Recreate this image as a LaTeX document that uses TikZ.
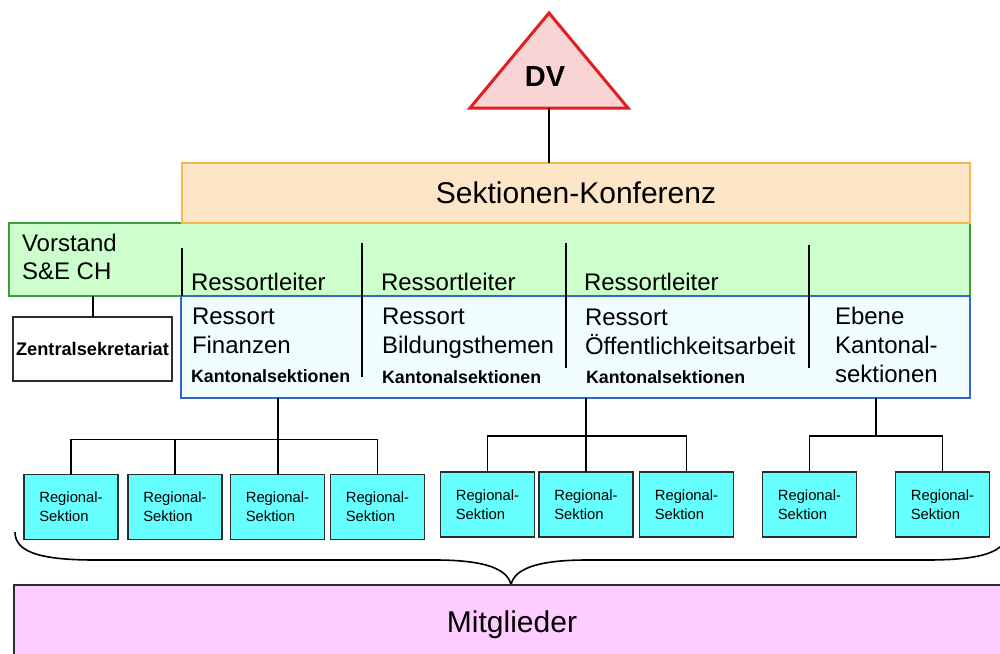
\documentclass[tikz,border=0pt]{standalone}
\usepackage{fontspec}
\setmainfont{Liberation Sans}
\usetikzlibrary{calc}
\definecolor{dvred}{RGB}{224,32,30}
\definecolor{dvfill}{RGB}{249,212,212}
\definecolor{skfill}{RGB}{253,230,200}
\definecolor{skline}{RGB}{246,184,74}
\definecolor{vsfill}{RGB}{204,255,204}
\definecolor{vsline}{RGB}{58,158,58}
\definecolor{kbfill}{RGB}{240,253,255}
\definecolor{kbline}{RGB}{51,102,204}
\definecolor{rsfill}{RGB}{102,255,255}
\definecolor{mgfill}{RGB}{255,204,255}
\definecolor{boxline}{RGB}{45,45,45}
\tikzset{
	plain/.style={inner sep=0pt, outer sep=0pt},
	bigtext/.style={font=\fontsize{15}{17}\selectfont},
	midtext/.style={plain, anchor=base west, font=\fontsize{12}{14}\selectfont},
	boldtext/.style={plain, anchor=base west, font=\fontsize{8.9}{10}\selectfont\bfseries},
	regbox/.style={plain, draw=boxline, line width=0.8pt, fill=rsfill, minimum width=47pt, minimum height=32.5pt, align=left, font=\fontsize{7.4}{9.5}\selectfont},
	conn/.style={line width=0.8pt},
}
\begin{document}
\begin{tikzpicture}[x=0.5pt, y=-0.5pt]
			%%%%% START %%%%%
			\useasboundingbox (0, 0) rectangle (1000, 653);
			\clip (0, 0) rectangle (1000, 653);
			
			% DV
			\draw[draw=dvred, fill=dvfill, line width=1.5pt, line join=miter] (549, 13) -- (628, 108) -- (470, 108) -- cycle;
			\node[font=\fontsize{14.5}{17}\selectfont\bfseries] (dv) at (545, 77) {DV};
			\coordinate (dvb) at (549, 108);
			
			% Vorstand / Konferenz
			\node[plain, draw=vsline, fill=vsfill, line width=0.8pt, minimum width=480.5pt, minimum height=36.5pt] (vs) at (489.5, 259.5) {};
			\node[plain, draw=skline, fill=skfill, line width=0.8pt, minimum width=394pt, minimum height=30pt, bigtext] (sk) at (576, 193) {Sektionen-Konferenz};
			\node[plain, draw=kbline, fill=kbfill, line width=0.8pt, minimum width=394.5pt, minimum height=51pt] (kb) at (575.5, 347) {};
			
			\draw[conn, line width=1pt] (dvb) -- (dvb |- sk.north);
			
			\node[midtext] (vst1) at (22, 251) {Vorstand};
			\node[midtext] (vst2) at (22, 279) {S\&E CH};
			
			\draw[conn] (182, 248) -- (182, 296);
			\draw[conn] (362, 243) -- (362, 377);
			\draw[conn] (566, 243) -- (566, 368);
			\draw[conn] (809, 245) -- (809, 368);
			
			\node[midtext] (rl1) at (191, 290) {Ressortleiter};
			\node[midtext] (rl2) at (381, 290) {Ressortleiter};
			\node[midtext] (rl3) at (584, 290) {Ressortleiter};
			
			\node[midtext] (ra1) at (192, 324) {Ressort};
			\node[midtext] (rb1) at (192, 353) {Finanzen};
			\node[boldtext] (rc1) at (191, 382) {Kantonalsektionen};
			
			\node[midtext] (ra2) at (382, 324) {Ressort};
			\node[midtext] (rb2) at (382, 353) {Bildungsthemen};
			\node[boldtext] (rc2) at (382, 383) {Kantonalsektionen};
			
			\node[midtext] (ra3) at (585, 325) {Ressort};
			\node[midtext] (rb3) at (585, 354) {Öffentlichkeitsarbeit};
			\node[boldtext] (rc3) at (586, 383) {Kantonalsektionen};
			
			\node[midtext] (eb1) at (835, 324) {Ebene};
			\node[midtext] (eb2) at (835, 353) {Kantonal-};
			\node[midtext] (eb3) at (835, 382) {sektionen};
			
			% Zentralsekretariat
			\node[plain, draw=boxline, fill=white, line width=0.8pt, minimum width=79.5pt, minimum height=32pt, font=\fontsize{9.1}{10}\selectfont\bfseries] (zs) at (92.5, 349) {Zentralsekretariat};
			\draw[conn, line width=1pt] (vs.south -| zs.north) -- (zs.north);
			
			% Regionalsektionen
			\node[regbox] (r1) at (71, 507) {Regional-\\Sektion};
			\node[regbox] (r2) at (175, 507) {Regional-\\Sektion};
			\node[regbox] (r3) at (277.5, 507) {Regional-\\Sektion};
			\node[regbox] (r4) at (377.5, 507) {Regional-\\Sektion};
			
			\node[regbox] (r5) at (487.5, 504.5) {Regional-\\Sektion};
			\node[regbox] (r6) at (586, 504.5) {Regional-\\Sektion};
			\node[regbox] (r7) at (686.5, 504.5) {Regional-\\Sektion};
			
			\node[regbox] (r8) at (809.5, 504.5) {Regional-\\Sektion};
			\node[regbox] (r9) at (942.5, 504.5) {Regional-\\Sektion};
			
			\draw[conn, line width=1pt] (kb.south -| r3) -- (r3.north);
			\draw[conn] (r1.north) -- ++(0, -35) -| (r4.north);
			\draw[conn] (r2.north) -- ++(0, -35);
			
			\draw[conn, line width=1pt] (kb.south -| r6) -- (r6.north);
			\draw[conn] (r5.north) -- ++(0, -36) -| (r7.north);
			
			\coordinate (t3) at (876, 436);
			\draw[conn, line width=1pt] (kb.south -| t3) -- (t3);
			\draw[conn] (r8.north) |- (t3) -| (r9.north);
			
			% Mitglieder
			\coordinate (brL) at (15, 532);
			\coordinate (brT) at (511, 585);
			\coordinate (brR) at (1007, 532);
			\draw[conn] (brL) .. controls (15, 552) and (40, 560) .. (95, 560) -- (435, 560)
				.. controls (488, 560) and (508, 570) .. (brT)
				.. controls (514, 570) and (534, 560) .. (587, 560) -- (927, 560)
				.. controls (982, 560) and (1007, 552) .. (brR);
			
			\node[plain, draw=boxline, fill=mgfill, line width=0.8pt, minimum width=498pt, minimum height=40pt, bigtext] (mg) at (512, 625) {Mitglieder};
			
			%%%%% END %%%%%
		\end{tikzpicture}
\end{document}
